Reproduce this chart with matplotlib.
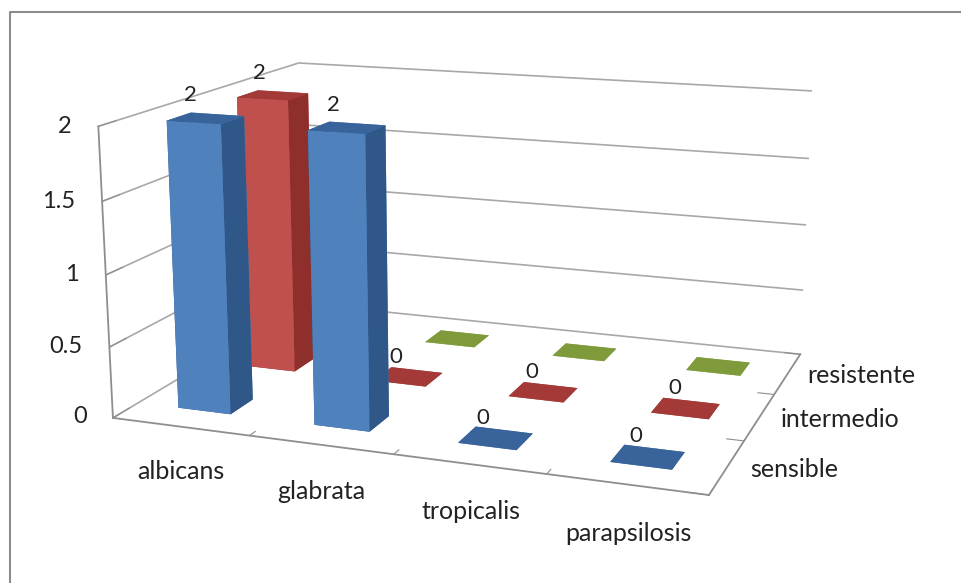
import matplotlib
matplotlib.use("Agg")
import matplotlib.pyplot as plt
from matplotlib.lines import Line2D
from mpl_toolkits.mplot3d import Axes3D

plt.rcParams['font.family'] = ['Lato', 'DejaVu Sans']

categories = ['albicans', 'glabrata', 'tropicalis', 'parapsilosis']
series_names = ['sensible', 'intermedio', 'resistente']
sensible = [2, 2, 0, 0]
intermedio = [2, 0, 0, 0]
resistente = [0, 0, 0, 0]
y_ticks = [0, 0.5, 1, 1.5, 2]
y_labels = ['0', '0.5', '1', '1.5', '2']

# bottom, top, front, back, left, right
blue = ['#2F5788', '#38649B', '#4F81BD', '#4F81BD', '#2F5788', '#2F5788']
red = ['#8E2F2C', '#A33A37', '#C0504D', '#C0504D', '#8E2F2C', '#8E2F2C']
green = ['#7F9A3A', '#7F9A3A', '#9BBB59', '#9BBB59', '#7F9A3A', '#7F9A3A']
colors = [blue, red, green]
all_series = [sensible, intermedio, resistente]
bar_w = 0.39
bar_d = 0.33

fig = plt.figure(figsize=(9.61, 5.83), dpi=100)
ax = fig.add_axes([-0.0715, -0.095, 1.11, 1.302], projection='3d')
ax.view_init(elev=14, azim=-70)
ax.set_proj_type('persp', focal_length=0.45)
ax.set_box_aspect((2.3, 1.7, 1.12))

# back to front so the front bars stay on top
for s in range(2, -1, -1):
    for c in range(3, -1, -1):
        val = all_series[s][c]
        ax.bar3d(c + 0.5 - bar_w / 2, s + 0.5 - bar_d / 2, 0, bar_w, bar_d, max(val, 0.001),
                 color=colors[s], shade=False, zsort='max')
        if s < 2:
            ax.text(c + 0.45, s + 0.4, val + 0.1, str(val), fontsize=16, color='#222222',
                    ha='center', va='bottom', zorder=100)

ax.set_xlim(0, 4)
ax.set_ylim(0, 3)
ax.set_zlim(0, 2)
# ticks sit between the categories, labels are centred on them
ax.set_xticks([0, 1, 2, 3, 4])
ax.set_yticks([0, 1, 2, 3])
ax.set_zticks(y_ticks)
ax.zaxis.set_ticks_position('lower')
for z, name in zip(y_ticks, y_labels):
    ax.text(-0.2, 0, z - 0.015, name, fontsize=17, color='#222222', ha='right', va='center')
for c, name in enumerate(categories):
    ax.text(c + 0.49 + c * 0.01, 0, -0.32, name, fontsize=18, color='#222222', ha='center', va='center')
for s, name in enumerate(series_names):
    ax.text(4.14, s + 0.5, 0, name, fontsize=18, color='#222222', ha='left', va='center')

for axis in (ax.xaxis, ax.yaxis, ax.zaxis):
    axis.set_pane_color((1, 1, 1, 0))
    axis.line.set_color('#8e8e8e')
    axis.line.set_linewidth(1.3)
    axis._axinfo['grid'].update(color='#a8a8a8', linewidth=1.2)
    axis._axinfo['tick'].update(inward_factor=0.0, outward_factor=0.35)
    axis.set_ticklabels([])
    for tick in axis.get_major_ticks():
        tick.label1.set_visible(False)
ax.zaxis._axinfo['tick'].update(inward_factor=0.0, outward_factor=0.9)
ax.xaxis._axinfo['grid'].update(linewidth=0)
ax.yaxis._axinfo['grid'].update(linewidth=0)
ax.tick_params(axis='both', color='#8e8e8e')
ax.tick_params(axis='z', color='#8e8e8e')

# outer chart frame, cropped at the right and bottom
fig.add_artist(Line2D([10 / 961, 10 / 961, 1], [0, 1 - 12 / 583, 1 - 12 / 583],
                      color='#8c8c8c', linewidth=1.5))
fig.savefig('out.png', dpi=100)
